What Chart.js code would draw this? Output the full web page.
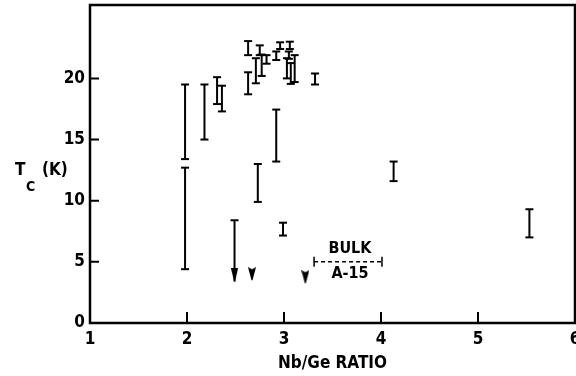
<!DOCTYPE html>
<html>
<head>
<meta charset="utf-8">
<script src="https://cdn.jsdelivr.net/npm/chart.js@4.4.1/dist/chart.umd.min.js"></script>
<style>
  html, body { margin: 0; padding: 0; background: #fff; }
  #wrap { width: 576px; height: 376px; }
</style>
</head>
<body>
<div id="wrap"><canvas id="chart"></canvas></div>
<script>
// ---------------------------------------------------------------------------
// Values (Tc range for each Nb/Ge ratio)
// ---------------------------------------------------------------------------

const barRatio = [1.98, 1.98, 2.18, 2.31, 2.36, 2.63, 2.63, 2.71, 2.75, 2.77, 2.82,
                  2.92, 2.96, 3.03, 3.05, 3.06, 3.07, 3.11, 3.32, 2.92, 2.73, 2.99, 4.13, 5.53];
const barLow   = [13.4, 4.4, 15.0, 17.9, 17.3, 21.9, 18.7, 19.6, 21.9, 20.2, 21.2,
                  21.5, 22.4, 20.0, 21.6, 22.4, 19.55, 19.7, 19.5, 13.2, 9.9, 7.15, 11.6, 7.0];
const barHigh  = [19.5, 12.7, 19.5, 20.1, 19.4, 23.05, 20.5, 21.65, 22.7, 21.95, 21.9,
                  22.2, 22.95, 21.65, 22.2, 23.0, 21.25, 21.9, 20.4, 17.45, 13.0, 8.2, 13.2, 9.3];

// upper limits (arrows)
const arrowRatio = [2.49];
const arrowTop   = [8.4];
const arrowTip   = [3.4];

const headRatio = [2.67, 3.22];
const headTip   = [3.5, 3.25];

// bulk A-15 range
const bulkRatio = [3.31, 4.01];
const bulkTc = 5;
const bulkLabel = ['BULK', 'A-15'];

const xTicks = [1, 2, 3, 4, 5, 6];
const yTicks = [0, 5, 10, 15, 20];

const FONT = "'DejaVu Sans Condensed', 'DejaVu Sans', sans-serif";

// narrow arrow head, tip sits at the canvas centre
function makeHead(w, len, notch) {
  let c = document.createElement('canvas');
  c.width = w; c.height = len * 2;
  let g = c.getContext('2d');
  g.fillStyle = '#000';
  g.beginPath();
  g.moveTo(0, 0);
  g.lineTo(w / 2, notch);
  g.lineTo(w, 0);
  g.lineTo(w / 2 + 0.5, len);
  g.lineTo(w / 2 - 0.5, len);
  g.closePath();
  g.fill();
  return c;
}
const longHead = makeHead(7, 13, 0);
const shortHead = makeHead(8, 13, 2);

// ---------------------------------------------------------------------------
// Datasets
// ---------------------------------------------------------------------------

let datasets = [];

barRatio.forEach((r, i) => {
  datasets.push({
    data: [{x: r, y: barLow[i]}, {x: r, y: barHigh[i]}],
    showLine: true,
    borderColor: '#000', borderWidth: 2,
    pointStyle: 'line', pointRadius: 4, pointBorderWidth: 2, pointBorderColor: '#000'
  });
});

arrowRatio.forEach((r, i) => {
  datasets.push({
    data: [{x: r, y: arrowTop[i]}, {x: r, y: arrowTip[i]}],
    showLine: true,
    borderColor: '#000', borderWidth: 2,
    pointStyle: ['line', longHead], pointRadius: 4, pointBorderWidth: 2, pointBorderColor: '#000'
  });
});

datasets.push({
  data: headRatio.map((r, i) => ({x: r, y: headTip[i]})),
  showLine: false,
  pointStyle: shortHead
});

datasets.push({
  data: bulkRatio.map(r => ({x: r, y: bulkTc})),
  showLine: true,
  borderColor: '#000', borderWidth: 1.5, borderDash: [4, 3],
  pointStyle: 'line', rotation: 90, pointRadius: 5, pointBorderWidth: 1.5, pointBorderColor: '#000'
});

// ---------------------------------------------------------------------------
// Frame, inward ticks and extra text
// ---------------------------------------------------------------------------

const framePlugin = {
  id: 'frame',
  afterDraw(chart) {
    const {ctx, chartArea: a} = chart;
    const x = chart.scales.x, y = chart.scales.y;
    ctx.save();
    ctx.strokeStyle = '#000';
    ctx.lineWidth = 2.5;
    ctx.strokeRect(a.left, a.top, a.right - a.left, a.bottom - a.top);

    ctx.lineWidth = 2;
    ctx.beginPath();
    yTicks.forEach(v => {
      let p = y.getPixelForValue(v);
      ctx.moveTo(a.left, p); ctx.lineTo(a.left + 9, p);
    });
    xTicks.forEach(v => {
      let p = x.getPixelForValue(v);
      ctx.moveTo(p, a.bottom); ctx.lineTo(p, a.bottom - 11);
    });
    ctx.stroke();

    // bulk labels
    ctx.fillStyle = '#000';
    ctx.font = 'bold 16px ' + FONT;
    ctx.textAlign = 'center';
    ctx.textBaseline = 'middle';
    let bx = x.getPixelForValue((bulkRatio[0] + bulkRatio[1]) / 2 + 0.02);
    let by = y.getPixelForValue(bulkTc);
    ctx.fillText(bulkLabel[0], bx, by - 13);
    ctx.fillText(bulkLabel[1], bx, by + 12);

    // y title with subscript
    ctx.textAlign = 'left';
    ctx.textBaseline = 'alphabetic';
    ctx.font = 'bold 17px ' + FONT;
    ctx.fillText('T', 15, 175);
    ctx.font = 'bold 14px ' + FONT;
    ctx.fillText('C', 26, 191);
    ctx.font = 'bold 17px ' + FONT;
    ctx.fillText('(K)', 42, 175);
    ctx.restore();
  }
};

// ---------------------------------------------------------------------------
// Chart
// ---------------------------------------------------------------------------

let ctx = document.getElementById('chart').getContext('2d');

let chart = new Chart(ctx, {
  type: 'scatter',
  data: { datasets: datasets },
  options: {
    responsive: true,
    maintainAspectRatio: false,
    animation: false,
    events: [],
    layout: { autoPadding: false, padding: { top: 5, right: 1, left: 0, bottom: 0 } },
    plugins: { legend: { display: false }, tooltip: { enabled: false } },
    scales: {
      x: {
        type: 'linear', min: 1, max: 6,
        afterBuildTicks: s => { s.ticks = xTicks.map(v => ({value: v})); },
        afterFit: s => { s.height = 53; s.paddingLeft = 0; s.paddingRight = 0; },
        grid: { display: false, drawTicks: false },
        border: { display: false },
        ticks: { color: '#000', padding: 6, font: { family: FONT, size: 17, weight: 'bold' } },
        title: { display: true, text: 'Nb/Ge RATIO', color: '#000',
                 padding: { top: 0, bottom: 2 },
                 font: { family: FONT, size: 17, weight: 'bold' } }
      },
      y: {
        type: 'linear', min: 0, max: 26,
        afterBuildTicks: s => { s.ticks = yTicks.map(v => ({value: v})); },
        afterFit: s => { s.width = 90; s.paddingTop = 0; s.paddingBottom = 0; },
        grid: { display: false, drawTicks: false },
        border: { display: false },
        ticks: { color: '#000', padding: 5, font: { family: FONT, size: 17, weight: 'bold' } }
      }
    }
  },
  plugins: [framePlugin]
});
</script>
</body>
</html>
